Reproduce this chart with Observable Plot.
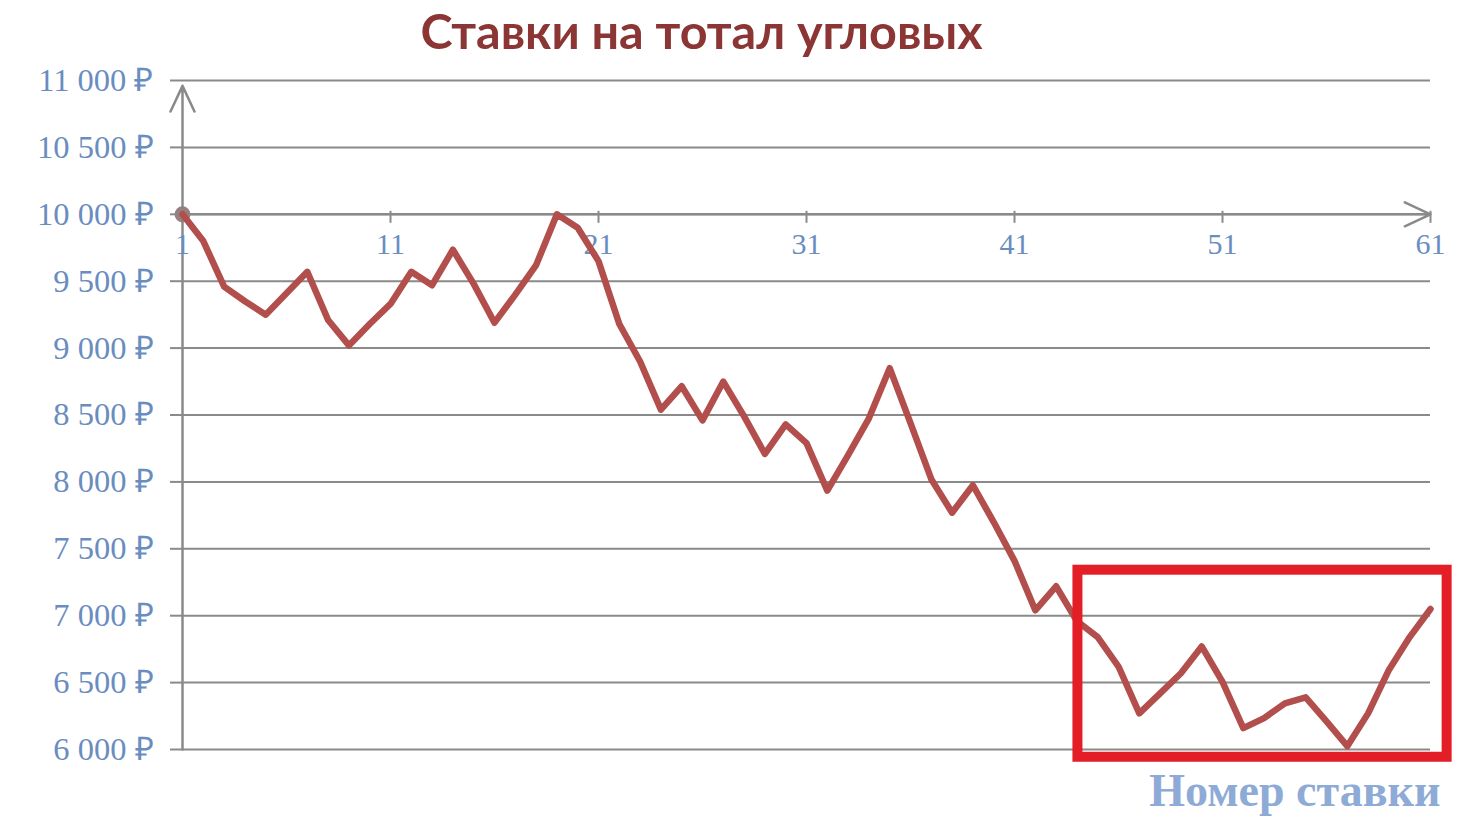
<!DOCTYPE html>
<html>
<head>
<meta charset="utf-8">
<script src="https://cdn.jsdelivr.net/npm/d3@7"></script>
<script src="https://cdn.jsdelivr.net/npm/@observablehq/plot@0.6"></script>
<style>
  html, body { margin: 0; padding: 0; background: #ffffff; }
  #chart svg { display: block; }
</style>
</head>
<body>
<div id="chart"></div>
<script>
// ---- data ----
const betNumbers = d3.range(1, 62);
const bankValues = [
  10000, 9800, 9460, 9350, 9250, 9410, 9570, 9210, 9020, 9180,
  9330, 9570, 9470, 9735, 9480, 9190, 9400, 9620, 10000, 9900,
  9650, 9180, 8900, 8540, 8715, 8460, 8750, 8490, 8210, 8430,
  8290, 7935, 8200, 8475, 8850, 8440, 8020, 7770, 7975, 7700,
  7410, 7040, 7220, 6960, 6840, 6620, 6270, 6420, 6570, 6770,
  6505, 6160, 6235, 6345, 6390, 6210, 6025, 6270, 6595, 6840,
  7050
];
const xTicks = [1, 11, 21, 31, 41, 51, 61];
const yTicks = [6000, 6500, 7000, 7500, 8000, 8500, 9000, 9500, 10000, 10500, 11000];
const titleText = "Ставки на тотал угловых";
const xLabelText = "Номер ставки";
// highlighted region (bet number / value extents)
const highlight = [{x1: 44.05, x2: 61.8, y1: 5942, y2: 7340}];
// axis crossing / arrow extents
const xAxisValue = 10000;
const yAxisTop = 10960;

const bets = betNumbers.map((n, i) => ({n, v: bankValues[i]}));
const fmtRub = d => d3.format(",")(d).replace(/,/g, "\u00a0") + "\u00a0₽";

const grey = "#8a8a8a";
const labelBlue = "#6a8dc0";

const chart = Plot.plot({
  width: 1460,
  height: 837,
  marginLeft: 182,
  marginRight: 30,
  marginTop: 80,
  marginBottom: 88,
  x: {domain: [1, 61], axis: null},
  y: {domain: [6000, 11000], axis: null},
  marks: [
    Plot.gridY(yTicks, {stroke: grey, strokeOpacity: 1, strokeWidth: 2}),
    Plot.axisY(yTicks, {
      tickSize: 12, tickPadding: 17, tickFormat: fmtRub,
      stroke: grey, strokeWidth: 2, fill: labelBlue,
      fontSize: 32.5, fontFamily: "Liberation Serif", label: null
    }),
    Plot.arrow([{}], {
      x1: () => 1, y1: () => 6000, x2: () => 1, y2: () => yAxisTop,
      stroke: grey, strokeWidth: 2.5, headLength: 17, headAngle: 50
    }),
    Plot.arrow([{}], {
      x1: () => 1, y1: () => xAxisValue, x2: () => 61, y2: () => xAxisValue,
      stroke: grey, strokeWidth: 2.5, headLength: 17, headAngle: 50
    }),
    Plot.ruleX(xTicks, {
      x: d => d, y1: () => xAxisValue, y2: () => xAxisValue,
      insetTop: 9, insetBottom: 3, stroke: grey, strokeWidth: 2
    }),
    Plot.text(xTicks, {
      x: d => d, y: () => xAxisValue, dy: 30, text: d => String(d),
      fill: labelBlue, fontSize: 30, fontFamily: "Liberation Serif", lineAnchor: "middle"
    }),
    Plot.dot([bets[0]], {x: "n", y: "v", r: 8, fill: "#948080"}),
    Plot.line(bets, {
      x: "n", y: "v", stroke: "#b24f4c", strokeWidth: 6.5,
      strokeLinejoin: "round", strokeLinecap: "round"
    }),
    Plot.rect(highlight, {
      x1: "x1", x2: "x2", y1: "y1", y2: "y2",
      fill: "none", stroke: "#e31e26", strokeWidth: 10
    }),
    Plot.text([titleText], {
      frameAnchor: "top-left", dx: 519, dy: -47, text: d => d,
      textAnchor: "middle", lineAnchor: "middle",
      fill: "#8b3535", fontSize: 48.5, fontWeight: 700, fontFamily: "Lato"
    }),
    Plot.text([xLabelText], {
      frameAnchor: "bottom-right", dx: 10, dy: 42, text: d => d,
      textAnchor: "end", lineAnchor: "middle",
      fill: "#8eaad6", fontSize: 46, fontWeight: 700, fontFamily: "Liberation Serif"
    })
  ]
});
document.getElementById("chart").appendChild(chart);
</script>
</body>
</html>
